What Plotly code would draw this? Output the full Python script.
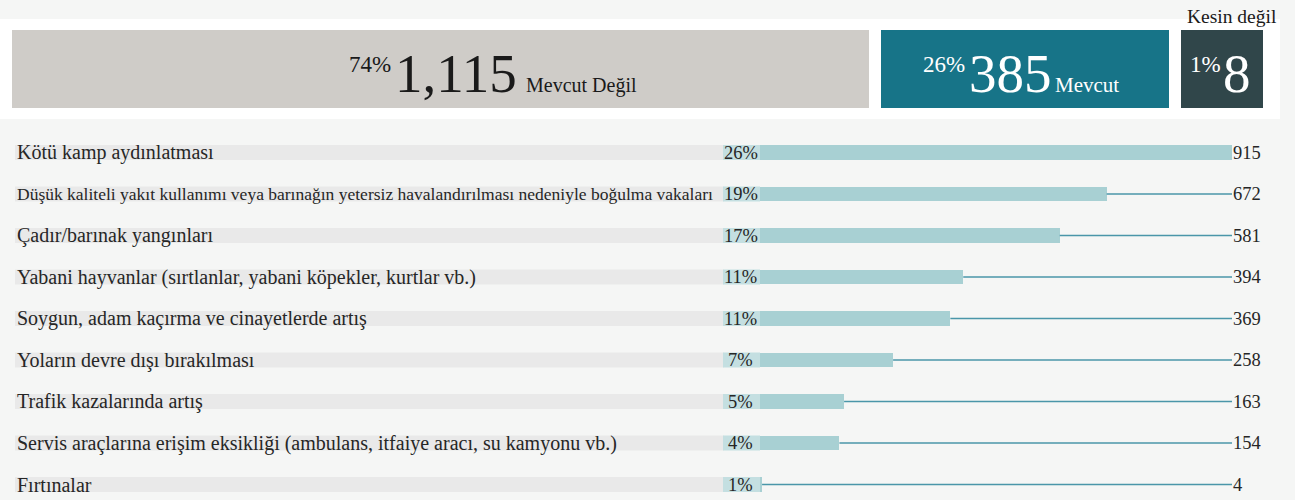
import plotly.graph_objects as go

W, H = 1295, 500
FONT = "Liberation Serif"

# Headline split of all responses
status_labels = ["Mevcut Değil", "Mevcut", "Kesin değil"]
status_counts = [1115, 385, 8]
status_pcts = ["74%", "26%", "1%"]
status_colors = ["#cfccc8", "#177488", "#30464a"]

# Risks named by respondents
risk_labels = [
    "Kötü kamp aydınlatması",
    "Düşük kaliteli yakıt kullanımı veya barınağın yetersiz havalandırılması nedeniyle boğulma vakaları",
    "Çadır/barınak yangınları",
    "Yabani hayvanlar (sırtlanlar, yabani köpekler, kurtlar vb.)",
    "Soygun, adam kaçırma ve cinayetlerde artış",
    "Yoların devre dışı bırakılması",
    "Trafik kazalarında artış",
    "Servis araçlarına erişim eksikliği (ambulans, itfaiye aracı, su kamyonu vb.)",
    "Fırtınalar",
]
risk_counts = [915, 672, 581, 394, 369, 258, 163, 154, 4]
risk_pcts = ["26%", "19%", "17%", "11%", "11%", "7%", "5%", "4%", "1%"]


def px(x):
    return x / W


def py(y):
    return 1 - y / H


fig = go.Figure()

# ---- headline stacked bar (tiny segments widened so their label fits)
total = sum(status_counts)
min_seg = 0.08 * total
seg_width = [max(c, min_seg) for c in status_counts]
for lab, c, w, col in zip(status_labels, status_counts, seg_width, status_colors):
    fig.add_trace(go.Bar(
        x=[w], y=[0], orientation="h", width=1,
        marker=dict(color=col, line=dict(color="white", width=12)),
        name=lab, customdata=[c], hovertemplate=lab + ": %{customdata}<extra></extra>",
        xaxis="x", yaxis="y", showlegend=False,
    ))

# ---- risk bars
fig.add_trace(go.Bar(
    x=risk_counts, y=risk_labels, orientation="h", width=0.36,
    marker=dict(color="#a8d0d3", line=dict(width=0)),
    xaxis="x2", yaxis="y2", showlegend=False,
    hovertemplate="%{y}: %{x}<extra></extra>",
))

# leader lines from bar end to the value column
xmax = max(risk_counts)
lx, ly = [], []
for lab, c in zip(risk_labels, risk_counts):
    lx += [c, xmax, None]
    ly += [lab, lab, None]
fig.add_trace(go.Scatter(
    x=lx, y=ly, mode="lines", line=dict(color="#4a96a9", width=1.4),
    xaxis="x2", yaxis="y2", showlegend=False, hoverinfo="skip",
))

shapes = []
annotations = []

# white panel behind the headline bar
shapes.append(dict(type="rect", xref="paper", yref="paper", layer="below",
                   x0=0, x1=px(1280), y0=py(119), y1=py(19),
                   fillcolor="white", line=dict(width=0)))

# row tracks and percentage cells
for i, lab in enumerate(risk_labels):
    shapes.append(dict(type="rect", xref="paper", yref="y2", layer="below",
                       x0=px(15), x1=px(724), y0=i - 0.18, y1=i + 0.18,
                       fillcolor="#e9e9e9", line=dict(width=0)))
    shapes.append(dict(type="rect", xref="paper", yref="y2", layer="below",
                       x0=px(723), x1=px(760), y0=i - 0.18, y1=i + 0.18,
                       fillcolor="#c4dfe1", line=dict(width=0)))

    size = 17.5 if len(lab) > 80 else 20
    annotations.append(dict(
        text=lab, xref="paper", yref="y2", x=px(15), y=lab,
        xanchor="left", yanchor="middle", showarrow=False,
        font=dict(family=FONT, size=size, color="#262626"),
    ))
    annotations.append(dict(
        text=risk_pcts[i], xref="paper", yref="y2", x=px(741), y=lab,
        xanchor="center", yanchor="middle", showarrow=False,
        font=dict(family=FONT, size=18.5, color="#262626"),
    ))
    annotations.append(dict(
        text=str(risk_counts[i]), xref="x2", yref="y2", x=xmax, y=lab,
        xanchor="left", yanchor="middle", showarrow=False, xshift=-1,
        font=dict(family=FONT, size=18.5, color="#262626"),
    ))

# headline texts: percentage, count, label
def head_text(text, x, y, size, color, anchor):
    annotations.append(dict(
        text=text, xref="paper", yref="paper", x=px(x), y=py(y),
        xanchor=anchor, yanchor="middle", showarrow=False,
        font=dict(family=FONT, size=size, color=color),
    ))

# segment 1
head_text(status_pcts[0], 393, 64, 23, "#1a1a1a", "right")
head_text(f"{status_counts[0]:,}", 456, 73.5, 55, "#1a1a1a", "center")
head_text(status_labels[0], 524, 85.5, 20, "#1a1a1a", "left")
# segment 2
head_text(status_pcts[1], 967, 64, 23, "white", "right")
head_text(f"{status_counts[1]:,}", 1010, 73.5, 55, "white", "center")
head_text(status_labels[1], 1053, 85, 21, "white", "left")
# segment 3
head_text(status_pcts[2], 1223, 64, 23, "white", "right")
head_text(f"{status_counts[2]:,}", 1237, 73.5, 55, "white", "center")
head_text(status_labels[2], 1279, 16.5, 19.5, "#1a1a1a", "right")

# axis scaling
seg_total = sum(seg_width)
k_top = seg_total / (1269 - 6)
k_low = xmax / (1232 - 760)
row0, pitch = 152.5, 41.5

hidden = dict(visible=False, showgrid=False, zeroline=False, fixedrange=True)
fig.update_layout(
    width=W, height=H,
    margin=dict(l=0, r=0, t=0, b=0),
    paper_bgcolor="#f5f6f5", plot_bgcolor="rgba(0,0,0,0)",
    barmode="stack", bargap=0,
    xaxis=dict(domain=[0, 1], range=[-6 * k_top, (W - 6) * k_top], anchor="y", **hidden),
    yaxis=dict(domain=[py(114), py(24)], range=[-0.5, 0.5], anchor="x", **hidden),
    xaxis2=dict(domain=[0, 1], range=[-760 * k_low, (W - 760) * k_low], anchor="y2", **hidden),
    yaxis2=dict(domain=[0, 1], type="category", categoryorder="array", categoryarray=risk_labels,
                range=[(H - row0) / pitch, -row0 / pitch], anchor="x2", **hidden),
    shapes=shapes, annotations=annotations,
    showlegend=False,
)

fig.write_html("out.html")
